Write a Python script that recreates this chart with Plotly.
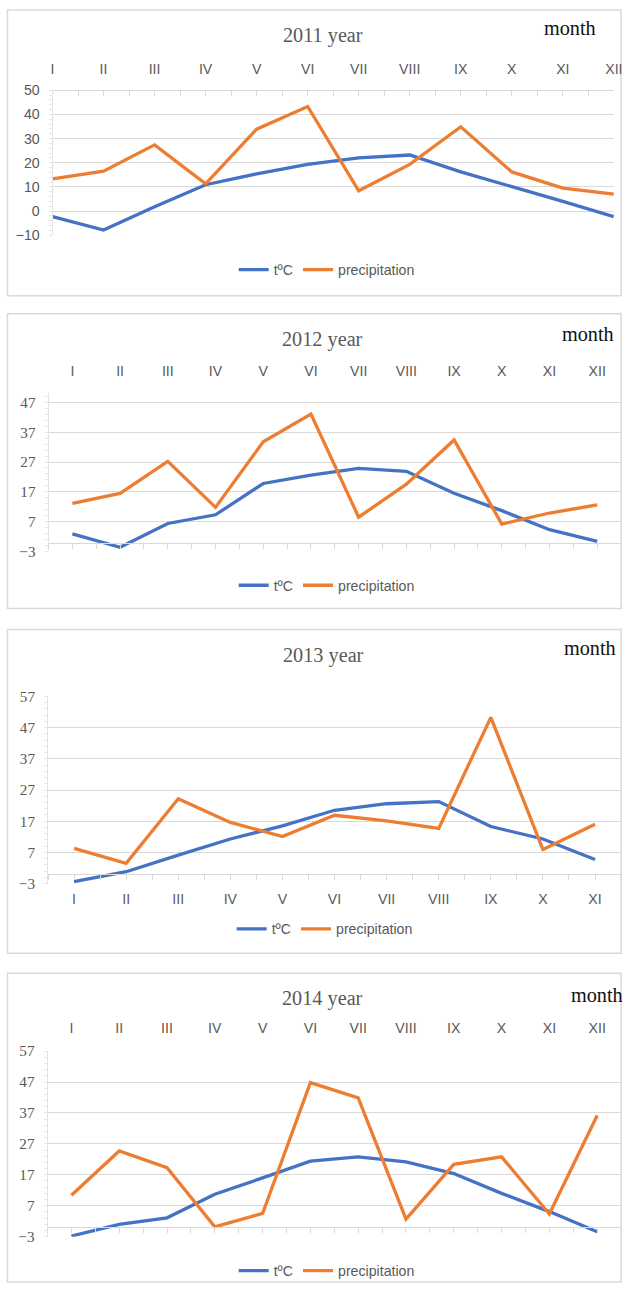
import plotly.graph_objects as go

W, H = 631, 1291
# the photographed page comes back slightly rescaled; place items so they land on target
FRAME_Y = 8
SY = H / (H + 2 * FRAME_Y)
OX, SX = 1.5, 0.982

months12 = ["I", "II", "III", "IV", "V", "VI", "VII", "VIII", "IX", "X", "XI", "XII"]
months11 = months12[:11]

titles = ["2011 year", "2012 year", "2013 year", "2014 year"]
unit_label = "month"
series_names = ["tºC", "precipitation"]

temp_2011 = [-2.3, -7.9, 1.8, 10.9, 15.4, 19.3, 22.0, 23.2, 16.2, 10.2, 4.0, -2.3]
prec_2011 = [13.3, 16.5, 27.4, 11.3, 33.9, 43.3, 8.4, 19.3, 34.9, 16.2, 9.5, 7.0]
temp_2012 = [2.9, -1.6, 6.4, 9.3, 19.8, 22.6, 24.9, 23.9, 16.5, 10.7, 4.3, 0.4]
prec_2012 = [13.1, 16.5, 27.2, 11.8, 33.8, 43.1, 8.5, 19.6, 34.4, 6.2, 9.9, 12.6]
temp_2013 = [-2.4, 0.8, 6.1, 11.3, 15.5, 20.5, 22.6, 23.3, 15.3, 11.3, 4.7]
prec_2013 = [8.3, 3.5, 24.2, 16.6, 12.1, 18.9, 17.1, 14.7, 50.3, 7.9, 16.0]
temp_2014 = [-2.8, 1.0, 3.1, 10.7, 16.0, 21.4, 22.8, 21.2, 17.4, 11.0, 5.1, -1.4]
prec_2014 = [10.4, 24.7, 19.3, 0.2, 4.5, 46.8, 41.9, 2.7, 20.4, 22.8, 4.3, 36.2]

yticks_2011 = [-10, 0, 10, 20, 30, 40, 50]
yticks_2012 = [-3, 7, 17, 27, 37, 47]
yticks_2013 = [-3, 7, 17, 27, 37, 47, 57]
yticks_2014 = [-3, 7, 17, 27, 37, 47, 57]

BLUE = "#4472C4"
ORANGE = "#ED7D31"
GRID = "#d9d9d9"
TXT = "#595959"


def px_x(t):
    return (t - OX) / SX


def px_y(t):
    return t / SY - FRAME_Y


def fx(t):
    return min(max(px_x(t) / W, 0.0015), 0.9985)


def fy(t):
    return min(max(1 - px_y(t) / H, 0.0008), 0.9992)


def sz(v):
    return v / SY


# panel geometry (target pixels in the reference picture)
panels = [
    dict(months=months12, temp=temp_2011, prec=prec_2011, yt=yticks_2011,
         xpx=(52, 613), ypx=(89.3, 234.3), yr=(-10, 50), xr=(0, 11),
         side="top", mode="top", yfont="Liberation Sans", yfs=14,
         title=(322, 34), month=(569, 27), legend=(326, 269), box=(7, 7, 630, 295), std=12),
    dict(months=months12, temp=temp_2012, prec=prec_2012, yt=yticks_2012,
         xpx=(48, 621), ypx=(392.7, 550.9), yr=(-3, 50), xr=(-0.5, 11.5),
         side="top", mode="zero", yfont="Liberation Serif", yfs=15,
         title=(322, 339), month=(587, 333), legend=(326, 585), box=(7, 313, 630, 608), std=14),
    dict(months=months11, temp=temp_2013, prec=prec_2013, yt=yticks_2013,
         xpx=(47.5, 621), ypx=(696, 883.3), yr=(-3, 57), xr=(-0.5, 10.5),
         side="bottom", mode="zero", yfont="Liberation Serif", yfs=15,
         title=(323, 655), month=(589, 648), legend=(324, 929), box=(7, 629, 630, 953), std=5),
    dict(months=months12, temp=temp_2014, prec=prec_2014, yt=yticks_2014,
         xpx=(47, 621), ypx=(1051, 1236.7), yr=(-3, 57), xr=(-0.5, 11.5),
         side="top", mode="zero", yfont="Liberation Serif", yfs=15,
         title=(322, 998), month=(596, 995), legend=(326, 1271), box=(7, 973, 630, 1300), std=14),
]

fig = go.Figure()
layout = dict(
    width=W, height=H, margin=dict(l=0, r=0, t=0, b=0),
    paper_bgcolor="white", plot_bgcolor="white",
    showlegend=True, annotations=[], shapes=[],
)

for i, p in enumerate(panels):
    n = i + 1
    sfx = "" if n == 1 else str(n)
    xa, ya = "x" + sfx, "y" + sfx
    leg = "legend" + sfx
    ov = "x" + str(n + 4)

    for name, vals, col in [(series_names[0], p["temp"], BLUE), (series_names[1], p["prec"], ORANGE)]:
        fig.add_trace(go.Scatter(
            x=p["months"], y=vals, mode="lines", name=name,
            line=dict(color=col, width=3.3),
            xaxis=xa, yaxis=ya, legend=leg, hoverinfo="skip",
        ))
    # empty trace to attach the tick-mark axis
    fig.add_trace(go.Scatter(x=[], y=[], xaxis=ov, yaxis=ya, showlegend=False, hoverinfo="skip"))

    xdom = [fx(p["xpx"][0]), fx(p["xpx"][1])]
    ydom = [fy(p["ypx"][1]), fy(p["ypx"][0])]

    layout["xaxis" + sfx] = dict(
        domain=xdom, anchor=ya, type="category", range=list(p["xr"]),
        side=p["side"], showline=False, showgrid=False, zeroline=False, ticks="",
        ticklabelstandoff=int(round(sz(p["std"]))),
        tickfont=dict(family="Liberation Sans", size=sz(14), color=TXT),
        fixedrange=True,
    )
    if p["mode"] == "top":
        pos = ydom[1]
    else:
        pos = ydom[0] + (0 - p["yr"][0]) / (p["yr"][1] - p["yr"][0]) * (ydom[1] - ydom[0])
    layout["xaxis" + str(n + 4)] = dict(
        domain=xdom, anchor="free", position=pos, overlaying=xa, type="linear",
        range=list(p["xr"]), showline=True, linecolor=GRID, linewidth=1.2,
        ticks="inside" if p["mode"] == "top" else "outside",
        side="top" if p["mode"] == "top" else "bottom",
        ticklen=5, tickcolor=GRID, tickwidth=1,
        tickmode="linear", tick0=p["xr"][0], dtick=0.5,
        showticklabels=False, showgrid=False, zeroline=False,
    )
    layout["yaxis" + sfx] = dict(
        domain=ydom, anchor=xa, range=list(p["yr"]),
        tickmode="array", tickvals=p["yt"],
        showgrid=True, gridcolor=GRID, gridwidth=1.2, zeroline=False,
        showline=True, linecolor="#e3e3e3", linewidth=1, ticks="",
        ticklabelstandoff=9,
        minor=dict(tickmode="linear", tick0=p["yt"][0], dtick=2, ticks="outside",
                   ticklen=3, tickcolor="#e6e6e6", showgrid=False),
        tickfont=dict(family=p["yfont"], size=sz(p["yfs"]), color=TXT),
        fixedrange=True,
    )
    layout[leg] = dict(
        orientation="h", x=fx(p["legend"][0]), y=fy(p["legend"][1]),
        xanchor="center", yanchor="middle", bgcolor="rgba(0,0,0,0)",
        font=dict(family="Liberation Sans", size=sz(14), color=TXT),
        itemwidth=30, tracegroupgap=0,
    )
    layout["annotations"].append(dict(
        text=titles[i], xref="paper", yref="paper",
        x=fx(p["title"][0]), y=fy(p["title"][1]), xanchor="center", yanchor="middle",
        showarrow=False, font=dict(family="Liberation Serif", size=sz(20), color=TXT),
    ))
    layout["annotations"].append(dict(
        text=unit_label, xref="paper", yref="paper",
        x=fx(p["month"][0]), y=fy(p["month"][1]), xanchor="center", yanchor="middle",
        showarrow=False, font=dict(family="Liberation Serif", size=sz(20), color="#111111"),
    ))
    b = p["box"]
    layout["shapes"].append(dict(
        type="rect", xref="paper", yref="paper",
        x0=fx(b[0]), x1=fx(b[2]), y0=fy(b[3]), y1=fy(b[1]),
        line=dict(color=GRID, width=1.5), fillcolor="rgba(0,0,0,0)", layer="below",
    ))

fig.update_layout(**layout)
fig.write_html(
    "out.html",
    config={"displayModeBar": False},
    post_script="document.body.style.margin='0px';document.body.style.overflow='hidden';",
)
